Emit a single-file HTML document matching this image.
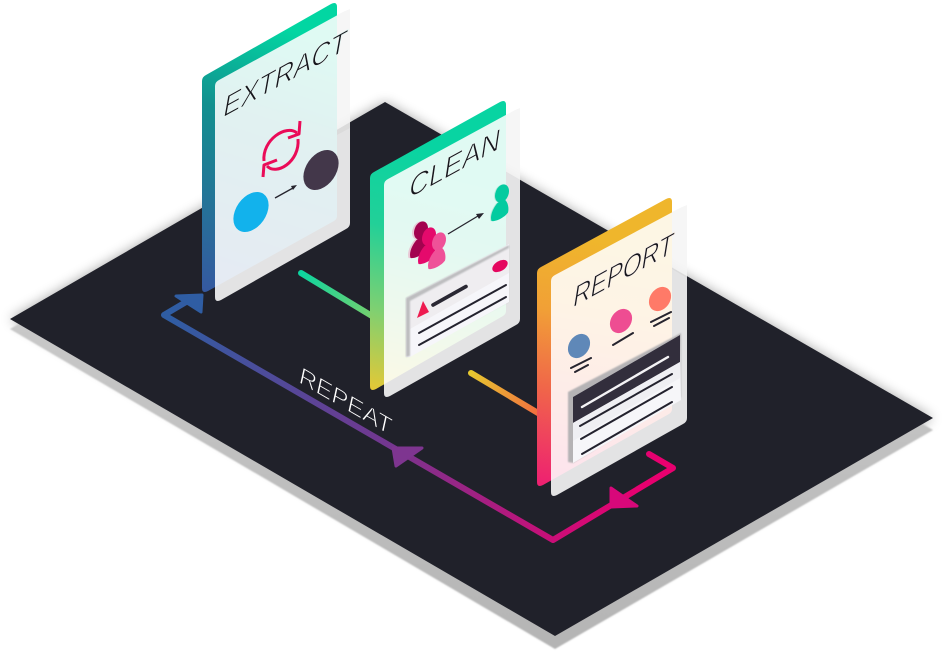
<!DOCTYPE html>
<html><head><meta charset="utf-8"><style>html,body{margin:0;padding:0;background:#fff}svg{display:block}text{font-family:"Liberation Sans",sans-serif}</style></head>
<body>
<svg width="947" height="653" viewBox="0 0 947 653" xmlns="http://www.w3.org/2000/svg">
<defs>
<filter id="b6" x="-10%" y="-10%" width="120%" height="120%"><feGaussianBlur stdDeviation="6"/></filter>
<filter id="b1"><feGaussianBlur stdDeviation="0.7"/></filter>
<linearGradient id="ge" gradientUnits="userSpaceOnUse" x1="290" y1="30" x2="205" y2="290"><stop offset="0" stop-color="#02d6a2"/><stop offset=".35" stop-color="#12908f"/><stop offset="1" stop-color="#3559a0"/></linearGradient>
<linearGradient id="gc" gradientUnits="userSpaceOnUse" x1="440" y1="150" x2="375" y2="392"><stop offset="0" stop-color="#08d4a2"/><stop offset=".35" stop-color="#22d098"/><stop offset=".68" stop-color="#7ed072"/><stop offset="1" stop-color="#e6c835"/></linearGradient>
<linearGradient id="gr" gradientUnits="userSpaceOnUse" x1="590" y1="240" x2="550" y2="488"><stop offset="0" stop-color="#efb62c"/><stop offset=".3" stop-color="#f1a036"/><stop offset=".62" stop-color="#f0644a"/><stop offset="1" stop-color="#ee1f72"/></linearGradient>
<linearGradient id="gl" gradientUnits="userSpaceOnUse" x1="170" y1="315" x2="640" y2="500"><stop offset="0" stop-color="#2f5da3"/><stop offset=".5" stop-color="#74368f"/><stop offset="1" stop-color="#e8006f"/></linearGradient>
<linearGradient id="g1" gradientUnits="userSpaceOnUse" x1="300" y1="273" x2="371" y2="316"><stop offset="0" stop-color="#0bd5a0"/><stop offset="1" stop-color="#74d06f"/></linearGradient>
<linearGradient id="g2" gradientUnits="userSpaceOnUse" x1="470" y1="372" x2="537" y2="412"><stop offset="0" stop-color="#e6c92f"/><stop offset="1" stop-color="#f2703f"/></linearGradient>
<linearGradient id="gs" gradientUnits="userSpaceOnUse" x1="0" y1="320" x2="0" y2="650"><stop offset="0" stop-color="#c8c8c8"/><stop offset="1" stop-color="#b4b4b4"/></linearGradient>
<g id="p"><ellipse cx="502" cy="193.500" rx="6.500" ry="9.500" transform="rotate(22 502 193.500)"/><path d="M491.500 221C489.500 215 494 207 497.500 203L504 199C508.500 202 509 209 508 212.500C505 217 496 222 491.500 221Z"/></g>
</defs>

<polygon points="10,319 385,102 933,418 555,636" fill="#000" opacity=".34" filter="url(#b6)"/>
<polygon points="10,329 385,112 933,430 555,649" fill="url(#gs)" filter="url(#b1)"/>
<polygon points="10,319 385,102 933,418 555,636" fill="#20212a"/>

<!-- repeat path -->
<path d="M649 454L673 468L553 540L164 315L186 302" fill="none" stroke="url(#gl)" stroke-width="6" stroke-linejoin="round" stroke-linecap="round"/>
<polygon points="393,448 422,448 396,466" fill="#7e3590" stroke="#7e3590" stroke-width="3" stroke-linejoin="round"/>
<polygon points="611,488 637,506 611,507" fill="#d8087a" stroke="#d8087a" stroke-width="3" stroke-linejoin="round"/>
<path d="M301 273L372 316" stroke="url(#g1)" stroke-width="6" stroke-linecap="round"/>
<path d="M471 373L538 413" stroke="url(#g2)" stroke-width="6" stroke-linecap="round"/>
<text transform="matrix(1,.58,-.22,1,298,382)" font-size="22.500" fill="#fff" stroke="#20212a" stroke-width=".8" textLength="92" lengthAdjust="spacingAndGlyphs">REPEAT</text>

<!-- EXTRACT -->
<path d="M206 75L331 4Q337 1 337 7V216Q337 219 334 221L208 291Q202 294 202 288V81Q202 77 206 75Z" fill="url(#ge)"/>
<polygon points="176,296 202,295 201,312" fill="#2f5da3" stroke="#2f5da3" stroke-width="3" stroke-linejoin="round"/>
<path d="M219 80L345 11Q350 8 350 13V223Q350 227 346 229L221 300Q215 303 215 297V86Q215 82 219 80Z" fill="#fff" fill-opacity=".875"/>
<polygon points="337,15 345,11 350,9 350,128 337,135" fill="#000" opacity=".035"/>
<text transform="matrix(1,-.55,-.18,1,222,118)" font-size="31" fill="#16161c" stroke="#e6f6f3" stroke-width=".95" textLength="123" lengthAdjust="spacingAndGlyphs">EXTRACT</text>
<g fill="none" stroke="#ea0b58" stroke-width="3" stroke-linejoin="round">
<path d="M297 133C286 124 262 140 264 161"/><path d="M267 166C276 176 300 162 298 139"/>
<path d="M300 121L299 134L288 138"/><path d="M263 177L264 165L277 160"/>
</g>
<ellipse cx="251" cy="212" rx="15" ry="22" transform="rotate(35 251 212)" fill="#12b2ec"/>
<ellipse cx="321" cy="170" rx="15" ry="22" transform="rotate(35 321 170)" fill="#43374a"/>
<path d="M275 198L293 188" stroke="#26242e" stroke-width="1.300"/><polygon points="297,185 291,186 293,190" fill="#26242e"/>

<!-- CLEAN -->
<path d="M374 172L500 102Q506 99 506 105V311Q506 314 503 316L376 389Q370 392 370 386V178Q370 174 374 172Z" fill="url(#gc)"/>
<path d="M388 179L515 110Q520 107 520 112V319Q520 323 516 325L390 396Q384 399 384 393V185Q384 181 388 179Z" fill="#fff" fill-opacity=".875"/>
<polygon points="506,115 515,110 520,108 520,180 506,172" fill="#000" opacity=".035"/>
<text transform="matrix(1,-.55,-.15,1,408,199)" font-size="31" fill="#16161c" stroke="#e7f7f2" stroke-width=".95" textLength="91" lengthAdjust="spacingAndGlyphs">CLEAN</text>
<use href="#p" transform="translate(-83 37)" fill="#e9c9d6"/>
<use href="#p" transform="translate(-81 37)" fill="#a2034f"/>
<use href="#p" transform="translate(-73 43)" fill="#e50a6c"/>
<use href="#p" transform="translate(-63 48)" fill="#ef5198"/>
<use href="#p" transform="translate(-1 0)" fill="#b8ebdc"/>
<use href="#p" fill="#04cba0"/>
<path d="M448 234L478 216" stroke="#26242e" stroke-width="1.300"/><polygon points="484,213 476,214 479,219" fill="#26242e"/>
<polygon points="406,298 509,245 509,302 406,357" fill="#000" opacity=".08" filter="url(#b1)"/>
<polygon points="406,298 509,244 509,302 410,357 406,357" fill="#f6f6fa"/>
<polygon points="410,301 509,248 509,273 410,329" fill="#efedf0"/>
<path d="M406 298L509 245V248L410 301V356L406 357Z" fill="#bdbdbf" filter="url(#b1)"/>
<ellipse cx="500" cy="266" rx="8.500" ry="5" transform="rotate(-32 500 266)" fill="#e5075f"/>
<path d="M433 305L466 286.500" stroke="#2a2833" stroke-width="3.600" stroke-linecap="round"/>
<polygon points="423,301 417,318 429,312" fill="#ee1b50"/>
<path d="M419 333L506 285M419 345L506 297" stroke="#23222e" stroke-width="2" stroke-linecap="round"/>

<!-- REPORT -->
<path d="M541 267L666 199Q672 196 672 202V409Q672 412 669 414L543 485Q537 488 537 482V273Q537 269 541 267Z" fill="url(#gr)"/>
<path d="M555 275L682 207Q687 204 687 209V418Q687 422 683 424L557 495Q551 498 551 492V281Q551 277 555 275Z" fill="#fff" fill-opacity=".875"/>
<polygon points="672,212 682,207 687,205 687,278 672,269" fill="#000" opacity=".035"/>
<text transform="matrix(1,-.55,-.16,1,572,308)" font-size="31" fill="#16161c" stroke="#f8efe9" stroke-width=".95" textLength="100" lengthAdjust="spacingAndGlyphs">REPORT</text>
<ellipse cx="579" cy="346" rx="10" ry="13" transform="rotate(35 579 346)" fill="#5f88b8"/>
<ellipse cx="621" cy="321" rx="10" ry="13" transform="rotate(35 621 321)" fill="#ee4d92"/>
<ellipse cx="660" cy="299" rx="10" ry="13" transform="rotate(35 660 299)" fill="#ff7a68"/>
<path d="M571 368L591 358M575 372L588 365M613 345L633 333M651 322L671 312M654 326L669 318" stroke="#26242e" stroke-width="2" stroke-linecap="round"/>
<polygon points="568,392 681,333 681,397 573,463 568,462" fill="#b5b3b5" filter="url(#b1)"/>
<polygon points="573,397 680,335 681,400 573,463" fill="#f6f6f9"/>
<polygon points="573,397 680,335 680,362 573,423" fill="#322e3c"/>
<polygon points="573,423 680,362 680,378 573,441" fill="#efeff3"/>
<path d="M582 407L668 357" stroke="#f4f3f5" stroke-width="2.400" stroke-linecap="round"/>
<path d="M580 426L672 374M581 439L672 387M582 454L672 402" stroke="#23222e" stroke-width="2" stroke-linecap="round"/>
</svg>
</body></html>
